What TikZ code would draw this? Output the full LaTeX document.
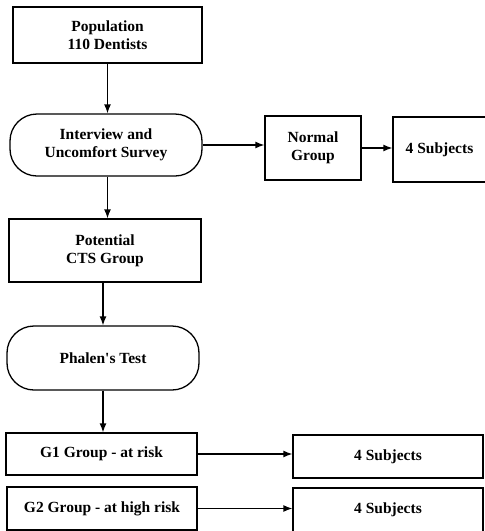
\documentclass[tikz,border=0pt]{standalone}
\usepackage{fontspec}
\setmainfont{Liberation Serif}
\usetikzlibrary{arrows.meta,positioning}
\tikzset{%
    box/.style={%
        draw, line width=1.3pt, align=center, inner sep=0pt,
        font=\bfseries\fontsize{15.5}{18}\selectfont
    },
    stadium/.style={%
        box, rounded corners=27pt
    },
    arrow/.style={%
        line width=1.3pt, -{Latex[length=9pt,width=7pt]}
    }
}

\begin{document}
\begin{tikzpicture}[x=1pt, y=-1pt]
    \useasboundingbox (0,0) rectangle (485,531);
    \node[box, minimum width=189pt, minimum height=56pt] (pop) at (107.5,35) {Population\\110 Dentists};
    \node[stadium, minimum width=192pt, minimum height=62pt] (interview) at (106,145) {Interview and\\Uncomfort Survey};
    \node[box, minimum width=96pt, minimum height=64pt] (normal) at (313,148) {Normal\\Group};
    \node[box, minimum width=93pt, minimum height=65pt] (subjA) at (439.5,149.5) {4 Subjects};
    \node[box, minimum width=192pt, minimum height=63pt] (cts) at (105,250.5) {Potential\\CTS Group};
    \node[stadium, minimum width=192pt, minimum height=64pt] (phalen) at (103,358) {Phalen\textquotesingle s Test};
    \node[box, minimum width=191pt, minimum height=42pt] (gone) at (101.5,454) {G1 Group - at risk};
    \node[box, minimum width=190pt, minimum height=43pt] (gtwo) at (102,508.5) {G2 Group - at high risk};
    \node[box, minimum width=190pt, minimum height=43pt] (subjB) at (388,456.5) {4 Subjects};
    \node[box, minimum width=190pt, minimum height=44pt] (subjC) at (388,510) {4 Subjects};
    \draw[arrow]
        (pop) -- (pop |- interview.north)
        ;
    \draw[arrow]
        (interview.south -| pop) -- (pop |- cts.north)
        ;
    \draw[arrow]
        (cts.south -| phalen) -- (phalen.north)
        ;
    \draw[arrow]
        (phalen) -- (phalen |- gone.north)
        ;
    \draw[arrow]
        (interview.east) -- (interview.east -| normal.west)
        ;
    \draw[arrow]
        (normal.east) -- (normal.east -| subjA.west)
        ;
    \draw[arrow]
        (gone.east) -- (gone.east -| subjB.west)
        ;
    \draw[arrow]
        (gtwo.east) -- (gtwo.east -| subjC.west)
        ;
\end{tikzpicture}
\end{document}
